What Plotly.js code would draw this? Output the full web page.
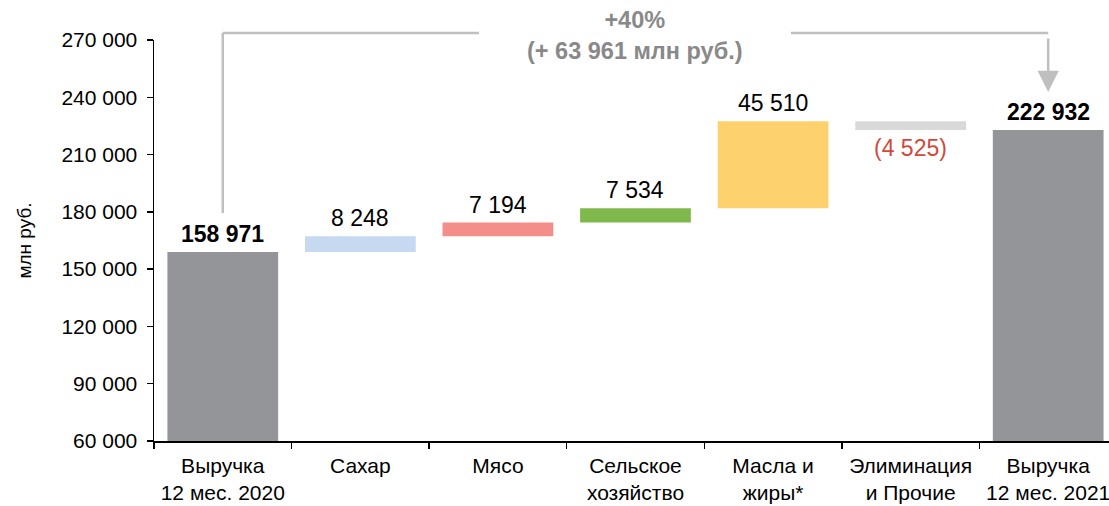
<!DOCTYPE html>
<html>
<head>
<meta charset="utf-8">
<script src="https://cdn.plot.ly/plotly-3.0.1.min.js"></script>
<style>
  html, body { margin: 0; padding: 0; background: #fff; }
  #chart { width: 1109px; height: 506px; }
</style>
</head>
<body>
<div id="chart"></div>
<script>
// ---- data ----
const categories = ['Выручка<br>12 мес. 2020', 'Сахар', 'Мясо', 'Сельское<br>хозяйство', 'Масла и<br>жиры*', 'Элиминация<br>и Прочие', 'Выручка<br>12 мес. 2021'];
const values = [158971, 8248, 7194, 7534, 45510, -4525, 222932];
const kinds = ['total', 'relative', 'relative', 'relative', 'relative', 'relative', 'total'];
const barColors = ['#939598', '#c6d9f1', '#f48e8a', '#80b94b', '#fed16f', '#d9d9d9', '#939598'];
const growthPct = '+40%';
const growthAbs = '(+ 63 961 млн руб.)';
const yTitle = 'млн руб.';

// ---- waterfall geometry from data ----
const bases = [], heights = [];
let running = 0;
values.forEach((v, i) => {
  if (kinds[i] === 'total') { bases.push(0); heights.push(v); running = v; }
  else { bases.push(running); heights.push(v); running += v; }
});

function fmt(v) {
  const s = Math.abs(v).toString().replace(/\B(?=(\d{3})+(?!\d))/g, ' ');
  return v < 0 ? '(' + s + ')' : s;
}

const FONT = 'Liberation Sans, Arial, sans-serif';

const trace = {
  type: 'bar',
  x: categories,
  y: heights,
  base: bases,
  width: 0.805,
  marker: { color: barColors, line: { width: 0 } },
  hoverinfo: 'skip',
  showlegend: false
};

const annotations = values.map((v, i) => {
  const top = Math.max(bases[i], bases[i] + heights[i]);
  const bottom = Math.min(bases[i], bases[i] + heights[i]);
  const isTotal = kinds[i] === 'total';
  if (v < 0) {
    return { x: i, y: bottom, xref: 'x', yref: 'y', text: fmt(v), showarrow: false,
      yanchor: 'top', yshift: -3, font: { family: FONT, size: 23, color: '#d0493c' } };
  }
  return { x: i, y: top, xref: 'x', yref: 'y', text: isTotal ? '<b>' + fmt(v) + '</b>' : fmt(v),
    showarrow: false, yanchor: 'bottom', yshift: 3,
    font: { family: FONT, size: 23, color: '#000' } };
});

// growth label
annotations.push({
  x: 3, y: 1.0112, xref: 'x', yref: 'paper', showarrow: false, yanchor: 'middle',
  text: '<b>' + growthPct + '</b><br><b>' + growthAbs + '</b>',
  font: { family: FONT, size: 23.5, color: '#898989' }
});
// right arrow down to final bar
annotations.push({
  x: 6, y: 0.8703, xref: 'x', yref: 'paper', text: '', showarrow: true,
  ax: 0, ay: -55, axref: 'pixel', ayref: 'pixel',
  arrowhead: 2, arrowsize: 1.7, arrowwidth: 2.5, arrowcolor: '#bfbfbf'
});

const lineStyle = { color: '#bfbfbf', width: 2.5 };
const shapes = [
  { type: 'line', xref: 'x', yref: 'paper', x0: 0, x1: 0, y0: 0.5686, y1: 1.0175, line: lineStyle },
  { type: 'line', xref: 'x', yref: 'paper', x0: 0, x1: 1.862, y0: 1.0175, y1: 1.0175, line: lineStyle },
  { type: 'line', xref: 'x', yref: 'paper', x0: 4.13, x1: 6, y0: 1.0175, y1: 1.0175, line: lineStyle }
];

const layout = {
  width: 1109, height: 506,
  margin: { l: 154, r: 0, t: 40, b: 65 },
  paper_bgcolor: '#fff', plot_bgcolor: '#fff',
  separators: '. ',
  font: { family: FONT, size: 21, color: '#000' },
  xaxis: {
    type: 'category', range: [-0.5, 6.442],
    tickson: 'boundaries', ticks: 'outside', ticklen: 6, tickwidth: 1.5, tickcolor: '#000',
    ticklabelstandoff: 5,
    showline: true, linecolor: '#000', linewidth: 1.5, showgrid: false,
    tickfont: { family: FONT, size: 21, color: '#000' }, fixedrange: true
  },
  yaxis: {
    range: [60000, 270000], tick0: 60000, dtick: 30000, tickformat: ',d',
    ticks: 'outside', ticklen: 6, tickwidth: 1.5, tickcolor: '#000',
    ticklabelstandoff: 5,
    showline: true, linecolor: '#000', linewidth: 1.5, showgrid: false, zeroline: false,
    tickfont: { family: FONT, size: 21, color: '#000' }, fixedrange: true,
    title: { text: yTitle, font: { family: FONT, size: 19, color: '#000' }, standoff: 24 }
  },
  shapes: shapes,
  annotations: annotations
};

Plotly.newPlot('chart', [trace], layout, { displayModeBar: false, staticPlot: true });
</script>
</body>
</html>
